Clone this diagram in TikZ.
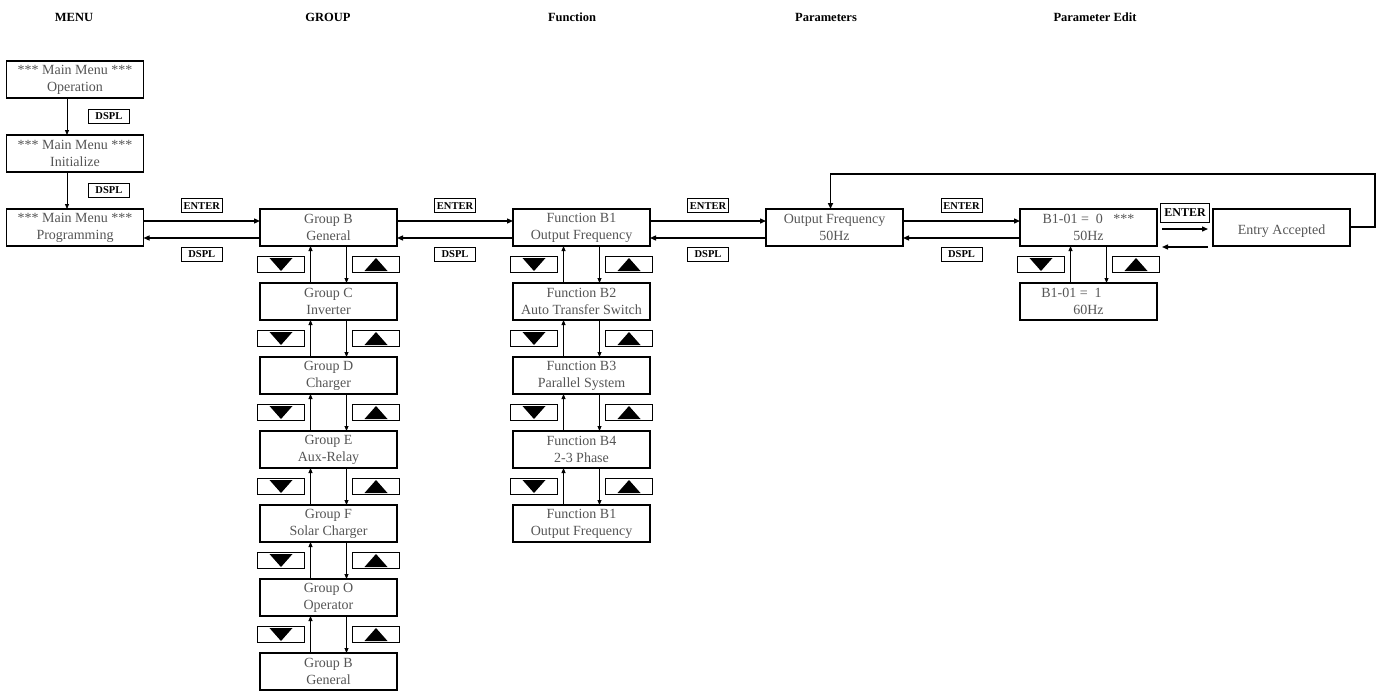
\documentclass[tikz,border=0pt]{standalone}
\usepackage{fontspec}
\setmainfont{Liberation Serif}
\usetikzlibrary{positioning,arrows.meta,calc}
\definecolor{BoxText}{RGB}{85,85,85}
\tikzset{
  menubox/.style={
    draw,
    line width=1.6pt,
    minimum width=137pt,
    minimum height=37pt,
    inner sep=0pt,
    outer sep=0pt,
    align=center,
    text=BoxText,
    font=\fontsize{14}{17}\selectfont
  },
  keylabel/.style={
    draw,
    line width=0.8pt,
    minimum width=41pt,
    minimum height=14pt,
    inner sep=0pt,
    font=\bfseries\fontsize{10.5}{10.5}\selectfont
  },
  keydown/.style={
    draw,
    line width=0.8pt,
    minimum width=47pt,
    minimum height=16pt,
    inner sep=0pt,
    path picture={\fill ($(path picture bounding box.center)+(-11.5pt,6.5pt)$) -- ++(23pt,0pt) -- ++(-11.5pt,-13pt) -- cycle;}
  },
  keyup/.style={
    draw,
    line width=0.8pt,
    minimum width=47pt,
    minimum height=16pt,
    inner sep=0pt,
    path picture={\fill ($(path picture bounding box.center)+(-11.5pt,-6.5pt)$) -- ++(23pt,0pt) -- ++(-11.5pt,13pt) -- cycle;}
  },
  colhead/.style={font=\bfseries\fontsize{12.5}{13}\selectfont},
  hconn/.style={-{Triangle[length=6pt,width=5pt]},line width=1.3pt},
  vconn/.style={-{Triangle[length=5pt,width=4pt]},line width=0.8pt},
  loopline/.style={-{Triangle[length=6pt,width=5pt]},line width=1.5pt}
}

\begin{document}
\begin{tikzpicture}[x=1pt,y=-1pt,node distance=37pt and 116pt]
  \useasboundingbox (0,0) rectangle (1380,693);

  % column heads
  \node[colhead] (hmenu) at (74,17) {MENU};
  \node[colhead] (hgroup) at (328,17) {GROUP};
  \node[colhead] (hfunc) at (572,17) {Function};
  \node[colhead] (hpar) at (826,17) {Parameters};
  \node[colhead] (hedit) at (1095,17) {Parameter Edit};

  % main menu
  \node[menubox] (m1) at (75,79.5) {*** Main Menu ***\\Operation};
  \node[menubox,below=of m1] (m2) {*** Main Menu ***\\Initialize};
  \node[menubox,below=of m2] (m3) {*** Main Menu ***\\Programming};
  \draw[vconn] ([xshift=-8pt]m1.south) -- node[keylabel,right=21pt] (d1) {DSPL} ([xshift=-8pt]m2.north);
  \draw[vconn] ([xshift=-8pt]m2.south) -- node[keylabel,right=21pt] (d2) {DSPL} ([xshift=-8pt]m3.north);

  % groups
  \node[menubox,right=116.5pt of m3] (g1) {Group B\\General};
  \foreach \n/\p/\t in {2/1/{Group C\\ Inverter},3/2/{Group D\\Charger},4/3/{Group E\\Aux-Relay},
                        5/4/{Group F\\Solar Charger},6/5/{Group O\\Operator},7/6/{Group B\\General}}
    \node[menubox,below=of g\p] (g\n) {\t};

  % functions
  \node[menubox,right=of g1] (f1) {Function B1\\Output Frequency};
  \foreach \n/\p/\t in {2/1/{Function B2\\Auto Transfer Switch},3/2/{Function B3\\Parallel System},
                        4/3/{Function B4\\2-3 Phase},5/4/{Function B1\\Output Frequency}}
    \node[menubox,below=of f\p] (f\n) {\t};

  % parameters
  \node[menubox,right=of f1] (pf) {Output Frequency\\50Hz};
  \node[menubox,right=117pt of pf] (e1) {B1-01 =\enspace0\enspace\ ***\\50Hz};
  \node[menubox,below=of e1] (e2) {B1-01 =\enspace1\hspace*{34pt}\\60Hz};
  \node[menubox,right=56pt of e1] (ea) {\\Entry Accepted};

  % up / down keys between boxes
  \foreach \a/\b in {g1/g2,g2/g3,g3/g4,g4/g5,g5/g6,g6/g7,f1/f2,f2/f3,f3/f4,f4/f5,e1/e2}{
    \draw[vconn] ([xshift=-18pt]\b.north) -- ([xshift=-18pt]\a.south);
    \draw[vconn] ([xshift=18pt]\a.south) -- ([xshift=18pt]\b.north);
    \node[keydown] (kd-\b) at ($(\a.south)!0.5!(\b.north)+(-47.5,0)$) {};
    \node[keyup] (ku-\b) at ($(\a.south)!0.5!(\b.north)+(47.5,0)$) {};
  }

  % ENTER / DSPL between columns
  \foreach \a/\b in {m3/g1,g1/f1,f1/pf,pf/e1}{
    \draw[hconn] ([yshift=6.5pt]\a.east) -- node[keylabel,above=8pt] (en-\b) {ENTER} ([yshift=6.5pt]\b.west);
    \draw[hconn] ([yshift=-10.5pt]\b.west) -- node[keylabel,below=9pt] (ds-\b) {DSPL} ([yshift=-10.5pt]\a.east);
  }

  % entry accepted
  \coordinate (eaR1) at ([xshift=5pt,yshift=-1.5pt]e1.east);
  \coordinate (eaR2) at ([xshift=-5pt,yshift=-1.5pt]ea.west);
  \coordinate (eaL1) at ([xshift=-5pt,yshift=-19.5pt]ea.west);
  \coordinate (eaL2) at ([xshift=5pt,yshift=-19.5pt]e1.east);
  \draw[hconn] (eaR1) -- (eaR2);
  \draw[hconn] (eaL1) -- (eaL2);
  \node[keylabel,minimum width=49pt,minimum height=19pt,font=\bfseries\fontsize{12}{12}\selectfont]
    (enea) at ($(e1.east)!0.5!(ea.west)+(0,-15)$) {ENTER};
  \coordinate (looptop) at ([xshift=-4pt,yshift=35pt]pf.north);
  \draw[loopline] ([yshift=0.5pt]ea.east) -- ++(25,0) |- (looptop) -- ([xshift=-4pt]pf.north);
\end{tikzpicture}
\end{document}
